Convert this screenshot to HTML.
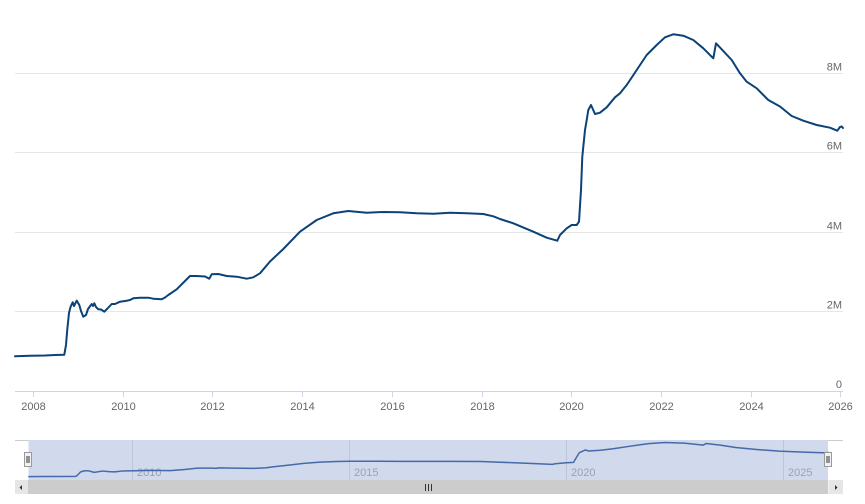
<!DOCTYPE html>
<html>
<head>
<meta charset="utf-8">
<style>
  html,body{margin:0;padding:0;background:#fff;}
  svg{display:block;font-family:"Liberation Sans",Arial,sans-serif;}
</style>
</head>
<body>
<svg width="865" height="504" viewBox="0 0 865 504" xmlns="http://www.w3.org/2000/svg">
  <rect x="0" y="0" width="865" height="504" fill="#fff"/>
  <!-- gridlines -->
  <g stroke="#e6e6e6" stroke-width="1">
    <line x1="15" y1="73.5" x2="843" y2="73.5"/>
    <line x1="15" y1="152.5" x2="843" y2="152.5"/>
    <line x1="15" y1="232.5" x2="843" y2="232.5"/>
    <line x1="15" y1="311.5" x2="843" y2="311.5"/>
  </g>
  <!-- x axis line -->
  <line x1="15" y1="391.5" x2="843" y2="391.5" stroke="#ccd6eb" stroke-width="1"/>
  <!-- ticks -->
  <g stroke="#ccd6eb" stroke-width="1">
    <line x1="33.5" y1="391" x2="33.5" y2="397"/>
    <line x1="123.5" y1="391" x2="123.5" y2="397"/>
    <line x1="212.5" y1="391" x2="212.5" y2="397"/>
    <line x1="302.5" y1="391" x2="302.5" y2="397"/>
    <line x1="392.5" y1="391" x2="392.5" y2="397"/>
    <line x1="482.5" y1="391" x2="482.5" y2="397"/>
    <line x1="571.5" y1="391" x2="571.5" y2="397"/>
    <line x1="661.5" y1="391" x2="661.5" y2="397"/>
    <line x1="751.5" y1="391" x2="751.5" y2="397"/>
    <line x1="840.5" y1="391" x2="840.5" y2="397"/>
  </g>
  <!-- x labels -->
  <g fill="#666" font-size="11" text-anchor="middle">
    <text x="33.5" y="410">2008</text>
    <text x="123.5" y="410">2010</text>
    <text x="212.5" y="410">2012</text>
    <text x="302.5" y="410">2014</text>
    <text x="392.5" y="410">2016</text>
    <text x="482.5" y="410">2018</text>
    <text x="571.5" y="410">2020</text>
    <text x="661.5" y="410">2022</text>
    <text x="751.5" y="410">2024</text>
    <text x="840.5" y="410">2026</text>
  </g>
  <!-- y labels -->
  <g fill="#666" font-size="11" text-anchor="end">
    <text x="842" y="70.5">8M</text>
    <text x="842" y="149.5">6M</text>
    <text x="842" y="229.5">4M</text>
    <text x="842" y="308.5">2M</text>
    <text x="842" y="388">0</text>
  </g>

  <!-- main series -->
  <polyline fill="none" stroke="#0b4278" stroke-width="2" stroke-linejoin="round" stroke-linecap="round" points="
15,356.3 30,355.8 45,355.5 55,355 64.3,354.7 66,345 67.3,329.3 69,313 70.5,307 72.7,302.3 74,306 76.7,300.7 79.3,305 81,311 83.3,316.7 86,315 88,309 91.7,304 93,306 94.3,303.3 96,307 98.3,309.3 101,309.5 104.3,311.7 107,309 111.7,304 115,304 120,301.7 126.7,300.7 130,300 133.3,298.3 140,297.7 148.3,297.7 153.3,298.7 161.7,299.3 165,297.5 168.3,295 176.7,289.3 183,283 190,276 196.7,276 205,276.5 209.3,278.7 211.7,274.3 218.3,274 226.7,276 236.7,276.7 246.7,278.7 253.3,277.3 260,273.3 270,261.5 283.3,249 300,231.7 316.7,220 333.3,213.3 348.3,211 366.7,212.7 383.3,212 400,212.3 416.7,213.3 433.3,213.7 450,212.7 466.7,213.3 483.3,214 493.3,216.3 500,219 513.3,223.3 533.3,231.7 546.7,237.7 557.3,240.7 560,235 566.7,228.3 571.7,225 576.7,225 579,221.7 581,190 582.3,156.7 585,130 586.7,120 588.3,110 591,105 595,114 600,112.7 606.7,107.3 615,97.3 620,93.3 626.7,85 636.7,70 646.7,55 656.7,45 665,37.3 673.3,34.3 683.3,35.7 693.3,40 703.3,48.3 713.3,58.3 716,43.3 721.7,49.3 731.7,60 740,73.3 746.7,81.7 756.7,88.3 768.3,100 780,106.5 791.7,116 803.3,120.7 816.7,125 830,127.7 837.3,130.7 840,127 841.7,126.5 843,128"/>

  <!-- navigator -->
  <line x1="15" y1="440.5" x2="843" y2="440.5" stroke="#cccccc" stroke-width="1"/>
  <rect x="28.5" y="440" width="799.5" height="40" fill="#d1d9ec"/>
  <g stroke="#bcc6da" stroke-width="1">
    <line x1="132.5" y1="440" x2="132.5" y2="480"/>
    <line x1="349.5" y1="440" x2="349.5" y2="480"/>
    <line x1="566.5" y1="440" x2="566.5" y2="480"/>
    <line x1="783.5" y1="440" x2="783.5" y2="480"/>
  </g>
  <g fill="#9aa3b5" font-size="11">
    <text x="137" y="476">2010</text>
    <text x="354" y="476">2015</text>
    <text x="571" y="476">2020</text>
    <text x="788" y="476">2025</text>
  </g>
  <polyline fill="none" stroke="#456aa9" stroke-width="1.5" stroke-linejoin="round" points="
28.27,476.6 42.77,476.54 57.28,476.51 75.94,476.43 78.84,473.74 80.48,472.02 84.06,470.88 87.93,470.71 94.3,472.41 102.42,471.06 108.8,471.62 114.61,471.88 121.76,471.06 136.27,470.71 149.12,470.4 170.1,470.57 184.6,469.51 197.46,468.1 211.97,468.15 216.13,468.39 218.44,467.92 232.94,468.1 252.28,468.39 265.14,467.82 274.81,466.57 287.66,465.24 303.81,463.41 319.95,462.18 336,461.47 350.5,461.22 400.49,461.36 448.83,461.4 481.02,461.54 497.17,462.07 529.36,463.41 552.57,464.37 555.18,463.76 566.49,462.71 573.55,462.36 575.48,459 579.35,452.65 585.15,450.01 589.02,450.96 600.33,450.25 613.19,448.77 629.33,446.31 648.67,443.66 664.72,442.53 684.06,443.13 703.39,445.07 705.99,443.48 721.17,445.25 735.67,447.54 756.56,449.48 779.18,451.17 803.35,452.13 823.27,452.73 828.78,452.44"/>

  <!-- handles -->
  <g fill="#f2f2f2" stroke="#999" stroke-width="1">
    <rect x="24.5" y="452.5" width="7" height="14"/>
    <rect x="824.5" y="452.5" width="7" height="14"/>
  </g>
  <g stroke="#333" stroke-width="1">
    <line x1="27" y1="456" x2="27" y2="463"/>
    <line x1="29" y1="456" x2="29" y2="463"/>
    <line x1="827" y1="456" x2="827" y2="463"/>
    <line x1="829" y1="456" x2="829" y2="463"/>
  </g>

  <!-- scrollbar -->
  <rect x="15" y="480" width="828" height="14" fill="#f2f2f2"/>
  <rect x="28" y="480" width="800" height="14" fill="#cccccc"/>
  <rect x="15" y="480" width="13" height="14" fill="#e6e6e6"/>
  <rect x="829" y="480" width="14" height="14" fill="#e6e6e6"/>
  <polygon points="19.5,487.5 22,485 22,490" fill="#333"/>
  <polygon points="837.5,487.5 835,485 835,490" fill="#333"/>
  <g stroke="#333" stroke-width="1">
    <line x1="425.5" y1="484" x2="425.5" y2="491"/>
    <line x1="428.5" y1="484" x2="428.5" y2="491"/>
    <line x1="431.5" y1="484" x2="431.5" y2="491"/>
  </g>
</svg>
</body>
</html>
